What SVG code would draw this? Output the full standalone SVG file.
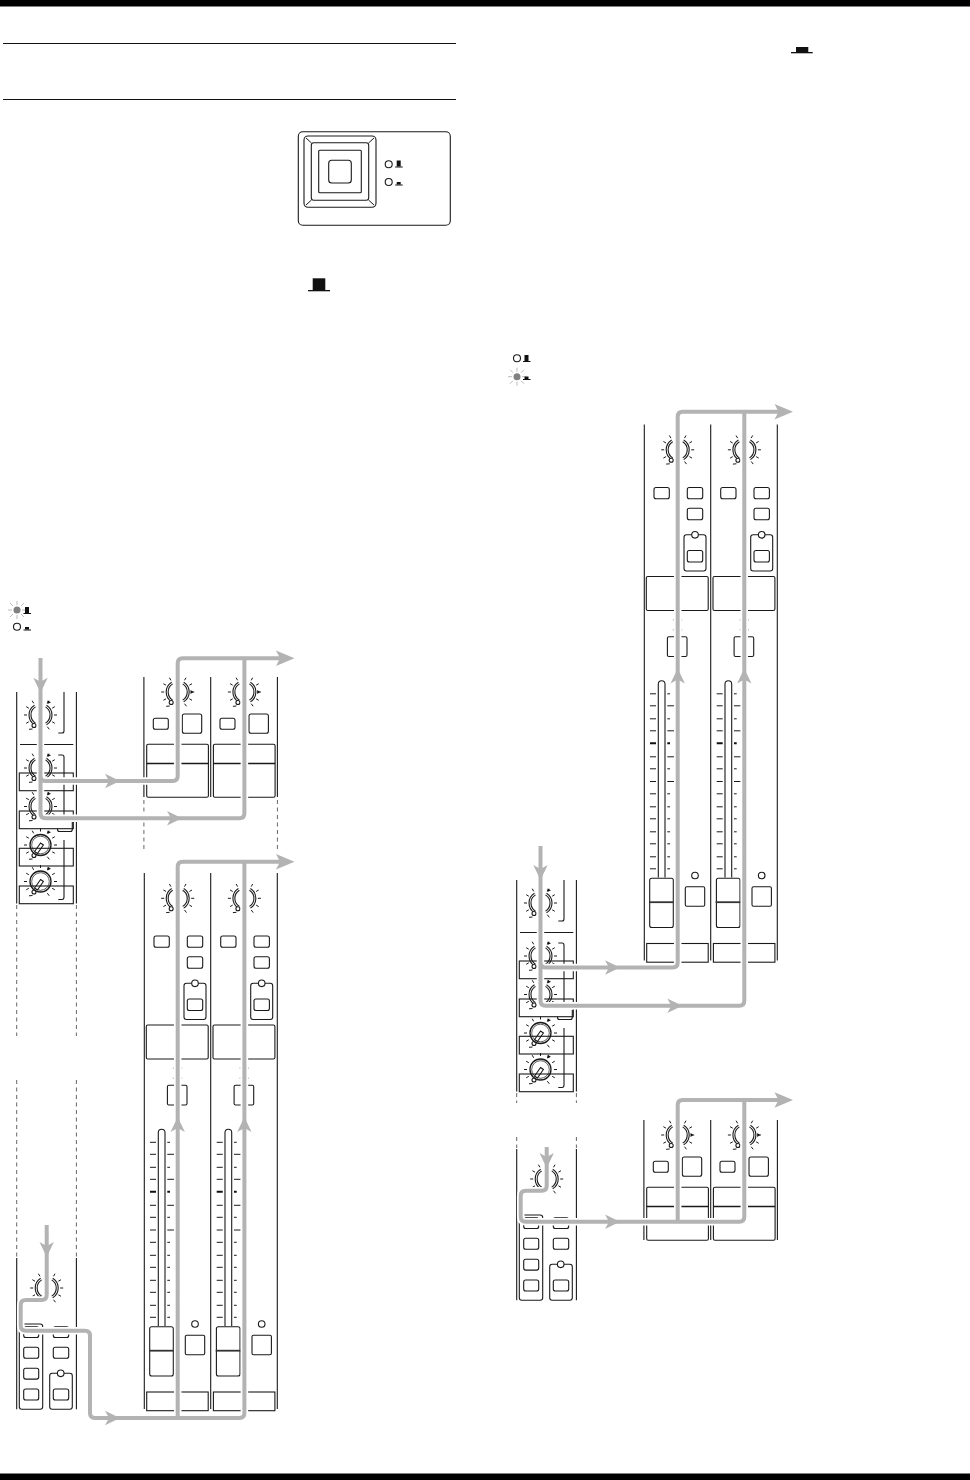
<svg xmlns="http://www.w3.org/2000/svg" xmlns:xlink="http://www.w3.org/1999/xlink" width="970" height="1480" viewBox="0 0 970 1480">
<style>
.l{fill:none;stroke:#1a1a1a;stroke-width:1.1;stroke-linecap:butt}
.b{fill:#fff;stroke:#1a1a1a;stroke-width:1.1}
.t{fill:none;stroke:#1a1a1a;stroke-width:1}
.d{fill:none;stroke:#666;stroke-width:1;stroke-dasharray:4 3.500}
.k{fill:#111}
.halo{fill:none;stroke:#fff;stroke-width:7.5;stroke-linejoin:round}
.flow{fill:none;stroke:#b3b3b3;stroke-width:4;stroke-linejoin:round}
.ah{fill:#b3b3b3}
.ray{stroke:#bbb;stroke-width:1}
</style>
<defs>
<g id="ticks"><path class="t" d="M-13.500,0h-3M13.500,0h3M-11.700,-6.800l-2.600,-1.500M11.700,-6.800l2.600,-1.500M-11.700,6.800l-2.600,1.500M11.700,6.800l2.600,1.500M-6.800,-11.700l-1.500,-2.600M6.800,-11.700l1.500,-2.600M6.800,11.700l2,2.600M-8,14l-3.500,.3"/><circle class="b" cx="-6.500" cy="10.500" r="2"/></g>
<g id="knob-open"><path class="l" d="M-6,-9.800A11.500,11.500 0 0 0 -6,9.800M-5,-8.100A9.500,9.500 0 0 0 -5,8.100M6,-9.800A11.500,11.500 0 0 1 6,9.800M5,-8.100A9.500,9.500 0 0 1 5,8.100"/><use href="#ticks"/></g>
<g id="knob-input"><use href="#knob-open"/><path class="k" d="M7,-14.500l3.500,1.800-3.500,1.800z"/></g>
<g id="knob-solid"><use href="#ticks"/><path class="t" d="M0,-13.500v-3"/><path class="k" d="M7,-14.500l3.500,1.800-3.500,1.800z"/><circle cx="0" cy="0" r="10.500" fill="#fff" stroke="#1a1a1a" stroke-width="1.300"/><circle cx="0" cy="0" r="8.800" fill="#fff" stroke="#1a1a1a" stroke-width=".7"/><path class="b" d="M2.900,0L-3.100,8.500L-5.900,6.500L.1,-2Z"/></g>
<g id="hat-up"><rect class="k" x="1.500" y="0" width="4" height="6"/><rect class="k" y="6" width="7.500" height="1"/></g>
<g id="hat-down"><rect class="k" x="1.500" y="3.500" width="4" height="2.500"/><rect class="k" y="6" width="7.500" height="1"/></g>
<g id="lit"><circle cx="0" cy="0" r="3.500" fill="#808080"/><path class="ray" d="M0,-5v-4M0,5v4M-5,0h-4M5,0h4M-4,-4l-3,-3M4,-4l3,-3M-4,4l-3,3M4,4l3,3"/></g>
<circle id="unlit" class="b" r="3.500"/>

<g id="input-top">
<path class="l" d="M16.700,692V903.500M76.400,692V903.500"/>
<use href="#knob-input" x="40.500" y="715"/><use href="#knob-input" x="40.500" y="768"/><use href="#knob-input" x="40.500" y="806.500"/>
<use href="#knob-solid" x="40.500" y="845"/><use href="#knob-solid" x="40.500" y="881.500"/>
<path class="l" d="M64,692V731Q64,733 62,733H58.300M20,744.500H73.300M58.300,755H62Q64,755 64,757V818M64,840V897Q64,899.500 62,899.500H58.300"/>
<rect class="l" x="19.300" y="773" width="54" height="17.700"/><rect class="l" x="19.300" y="811" width="54" height="17.700"/><rect class="l" x="19.300" y="848.300" width="54" height="17.700"/><rect class="l" x="19.300" y="886" width="54" height="17.700"/>
<path class="l" d="M57.500,828.700V829.500Q57.500,831.500 59.500,831.500H70.300Q72.300,831.500 72.300,829.500V822"/>
</g>

<g id="input-bottom">
<path class="l" d="M16.700,1258V1409.300M76.400,1258V1409.300"/>
<use href="#knob-open" x="46.700" y="1288"/>
<rect class="l" x="19.300" y="1324" width="23.400" height="85.300" rx="2.500"/><rect class="l" x="49.700" y="1373.300" width="22.600" height="36" rx="2.500"/>
<rect class="b" x="23.700" y="1326.700" width="15" height="10.800" rx="2"/><rect class="b" x="23.700" y="1347.300" width="15" height="11" rx="2"/><rect class="b" x="23.700" y="1368.300" width="15" height="10.800" rx="2"/><rect class="b" x="23.700" y="1389" width="15" height="11" rx="2"/>
<rect class="b" x="53.300" y="1326.700" width="15.400" height="10.800" rx="2"/><rect class="b" x="53.300" y="1347.300" width="15.400" height="11" rx="2"/><rect class="b" x="53.300" y="1389" width="15.400" height="11" rx="2"/>
<circle class="b" cx="60.700" cy="1373.300" r="3.300"/>
</g>

<g id="ch-short">
<use href="#knob-open" x="177.700" y="692"/>
<path class="k" d="M190.500,690l3,2-3,2z"/>
<rect class="b" x="153.300" y="718.300" width="15" height="11" rx="2"/><rect class="b" x="182.300" y="714" width="19.400" height="19.300" rx="2"/>
<rect class="l" x="146.700" y="744.300" width="61.700" height="53" rx="1.500"/><path d="M146.700,763.500H208.400" stroke="#1a1a1a" stroke-width="1.600"/>
</g>
<g id="pair-short">
<path class="l" d="M143.900,677V797M210.700,677V797M277.400,677V797"/>
<use href="#ch-short"/><use href="#ch-short" x="66.700"/>
<path class="d" d="M143.900,800V852M277.400,800V852"/>
</g>

<g id="fader-ticks">
<path class="t" d="M150,1142.300h6M167.300,1142.300h2.700M150,1154.300h6M167.300,1154.300h6.700M150,1167.300h6M167.300,1167.300h2.700M150,1179.300h6M167.300,1179.300h6.700M150,1205.300h6M167.300,1205.300h6.700M150,1217.300h6M167.300,1217.300h2.700M150,1230h6M167.300,1230h6.700M150,1242.300h6M167.300,1242.300h2.700M150,1255.300h6M167.300,1255.300h2.700M150,1267.300h6M167.300,1267.300h2.700M150,1280.300h6M167.300,1280.300h2.700M150,1292.300h6M167.300,1292.300h2.700M150,1305.300h6M167.300,1305.300h2.700M150,1317.300h6M167.300,1317.300h2.700"/>
<path d="M150,1191.700h6M167.300,1191.700h2.700" stroke="#111" stroke-width="2"/>
</g>
<g id="ch-full">
<use href="#knob-open" x="177.700" y="898.300"/>
<rect class="b" x="154" y="936" width="15.300" height="11.300" rx="2"/><rect class="b" x="187.300" y="936" width="15.400" height="11.300" rx="2"/><rect class="b" x="187.300" y="956.700" width="15.400" height="11.500" rx="2"/>
<rect class="l" x="184" y="983.300" width="22" height="36.200" rx="2.500"/><circle class="b" cx="195" cy="983.300" r="3.300"/><rect class="b" x="187.300" y="999" width="15.400" height="11.500" rx="2"/>
<rect class="l" x="146.300" y="1025" width="61.900" height="34" rx="1.500"/>
<path d="M173.300,1067.500v1.500M181.700,1067.500v1.500M173.300,1077.500v1.500M181.700,1077.500v1.500" stroke="#bbb" stroke-width="1"/>
<rect class="l" x="167.400" y="1085.300" width="19.600" height="19.700" rx="1.500"/>
<path class="l" d="M158.300,1326V1132.600A3.350,3.350 0 0 1 165,1132.600V1326"/>
<use href="#fader-ticks"/>
<rect class="b" x="149.700" y="1326.700" width="23.600" height="49.300" rx="2"/><path d="M149,1350.700H174" stroke="#333" stroke-width="1.800"/>
<circle class="b" cx="195" cy="1324" r="3.300"/><rect class="b" x="185.300" y="1335.300" width="19.400" height="19.400" rx="1.500"/>
<rect class="l" x="146.700" y="1392" width="61.500" height="18.700"/>
</g>
<g id="pair-full">
<path class="l" d="M144.300,873V1409M210.700,873V1409M277.300,873V1409"/>
<use href="#ch-full"/><use href="#ch-full" x="66.700"/>
</g>

<path id="ah" class="ah" d="M0,0L-15,-7.200L-11,0L-15,7.200Z"/>
<path id="ah-l" class="ah" d="M0,0L-18.500,-7.700L-14.500,0L-18.500,7.700Z"/>
</defs>

<rect id="bar-top" x="0" y="0" width="970" height="6.500" fill="#000"/>
<rect id="bar-bottom" x="0" y="1473.500" width="970" height="6.500" fill="#000"/>
<g id="rules"><path d="M3,43.500H456M3,99.500H456" stroke="#111" stroke-width="1"/></g>

<g id="top-panel">
<rect class="l" x="298.300" y="131.700" width="152" height="93.600" rx="4.500"/>
<rect class="l" x="304" y="136" width="72" height="71.300" rx="4"/>
<rect class="l" x="311.300" y="142.700" width="57.400" height="57.600" rx="2.500"/>
<rect class="l" x="318.700" y="150.300" width="42.600" height="42.400" rx="1"/>
<rect class="l" x="328.700" y="160.300" width="22.600" height="22.700" rx="3"/>
<path class="t" d="M306,138l5.500,5M374,138l-5.500,5M306,205l5.500,-5M374,205l-5.500,-5"/>
<use href="#unlit" x="388.700" y="164.300"/><use href="#unlit" x="388.700" y="182"/>
<use href="#hat-up" x="395.200" y="160.500"/><use href="#hat-down" x="395.200" y="178.500"/>
</g>
<g id="hat-large"><rect class="k" x="312.700" y="278.300" width="12.600" height="12"/><rect class="k" x="308" y="290" width="22" height="1.300"/></g>
<g id="hat-low-large"><rect class="k" x="796" y="47" width="12.300" height="5"/><rect class="k" x="791" y="52" width="21.700" height="1.300"/></g>

<g id="legend-left"><use href="#lit" x="17" y="610"/><use href="#hat-up" x="23.500" y="607"/><use href="#unlit" x="17" y="626.700"/><use href="#hat-down" x="23.500" y="623.500"/></g>
<g id="legend-right"><use href="#unlit" x="517" y="358.300"/><use href="#hat-up" x="523" y="355"/><use href="#lit" x="517" y="376.700"/><use href="#hat-down" x="523" y="373"/></g>

<g id="node-input-a"><use href="#input-top"/><path class="d" d="M16.700,905V1036M76.400,905V1036M16.700,1080V1258M76.400,1080V1258"/></g>
<g id="node-input-b"><use href="#input-bottom"/></g>
<g id="node-pair-a"><use href="#pair-short"/></g>
<g id="node-pair-b"><use href="#pair-full"/></g>
<g id="node-input-c" transform="translate(500,188)"><use href="#input-top"/><path class="d" d="M16.700,905V915M76.400,905V915"/></g>
<g id="node-input-d" transform="translate(500,-109)"><use href="#input-bottom"/><path class="d" d="M16.700,1246V1257M76.400,1246V1257"/></g>
<g id="node-pair-c" transform="translate(500,-448.500)"><use href="#pair-full"/></g>
<g id="node-pair-d" transform="translate(500,443)"><path class="l" d="M143.900,677V797M210.700,677V797M277.400,677V797"/><use href="#ch-short"/><use href="#ch-short" x="66.700"/></g>

<g id="connectors">
<path class="halo" d="M40.500,660V776Q40.500,781 45.500,781H172.700Q177.700,781 177.700,776V663.300Q177.700,658.300 182.700,658.300H280M40.500,770V813.300Q40.500,818.300 45.500,818.300H239.400Q244.400,818.300 244.400,813.300V658.300"/>
<path class="halo" d="M177.700,1416V866.700Q177.700,861.700 182.700,861.700H280M244.400,1413V861.700M46.700,1230V1295Q46.700,1300 41.700,1300H25.700Q20.700,1300 20.700,1305V1325.700Q20.700,1330.700 25.700,1330.700H85Q90,1330.700 90,1335.700V1413Q90,1418 95,1418H239.400Q244.400,1418 244.400,1413"/>
<path class="halo" d="M540.500,850V962.500Q540.500,967.500 545.500,967.500H672.700Q677.700,967.500 677.700,962.500V416.700Q677.700,411.700 682.700,411.700H780M540.500,960V1000.700Q540.500,1005.700 545.500,1005.700H739.300Q744.300,1005.700 744.300,1000.700V411.700"/>
<path class="halo" d="M546.700,1150V1185.700Q546.700,1190.700 541.700,1190.700H525.700Q520.700,1190.700 520.700,1195.700V1216.700Q520.700,1221.700 525.700,1221.700H739.300Q744.300,1221.700 744.300,1216.700V1100M677.700,1221.700V1105Q677.700,1100 682.700,1100H780"/>

<path class="flow" d="M40.500,658V776Q40.500,781 45.500,781H172.700Q177.700,781 177.700,776V663.300Q177.700,658.300 182.700,658.300H280M40.500,770V813.300Q40.500,818.300 45.500,818.300H239.400Q244.400,818.300 244.400,813.300V658.300"/>
<path class="flow" d="M177.700,1418V866.700Q177.700,861.700 182.700,861.700H280M244.400,1413V861.700M46.700,1225V1295Q46.700,1300 41.700,1300H25.700Q20.700,1300 20.700,1305V1325.700Q20.700,1330.700 25.700,1330.700H85Q90,1330.700 90,1335.700V1413Q90,1418 95,1418H239.400Q244.400,1418 244.400,1413"/>
<path class="flow" d="M540.500,846V962.500Q540.500,967.500 545.500,967.500H672.700Q677.700,967.500 677.700,962.500V416.700Q677.700,411.700 682.700,411.700H780M540.500,960V1000.700Q540.500,1005.700 545.500,1005.700H739.300Q744.300,1005.700 744.300,1000.700V411.700"/>
<path class="flow" d="M546.700,1147V1185.700Q546.700,1190.700 541.700,1190.700H525.700Q520.700,1190.700 520.700,1195.700V1216.700Q520.700,1221.700 525.700,1221.700H739.300Q744.300,1221.700 744.300,1216.700V1100M677.700,1221.700V1105Q677.700,1100 682.700,1100H780"/>

<use href="#ah" transform="translate(40.500,692.700) rotate(90)"/>
<use href="#ah" transform="translate(120,781)"/>
<use href="#ah" transform="translate(182,818.300)"/>
<use href="#ah-l" transform="translate(294.500,658.300)"/>
<use href="#ah-l" transform="translate(294.500,861.700)"/>
<use href="#ah" transform="translate(177.700,1117) rotate(-90)"/>
<use href="#ah" transform="translate(244.400,1117) rotate(-90)"/>
<use href="#ah" transform="translate(46.700,1257) rotate(90)"/>
<use href="#ah" transform="translate(120,1418)"/>
<use href="#ah" transform="translate(540.500,880) rotate(90)"/>
<use href="#ah" transform="translate(620,967.500)"/>
<use href="#ah" transform="translate(682.300,1005.700)"/>
<use href="#ah-l" transform="translate(793,411.700)"/>
<use href="#ah" transform="translate(677.700,668.500) rotate(-90)"/>
<use href="#ah" transform="translate(744.300,668.500) rotate(-90)"/>
<use href="#ah" transform="translate(546.700,1168) rotate(90)"/>
<use href="#ah" transform="translate(620,1221.700)"/>
<use href="#ah-l" transform="translate(793,1100)"/>
</g>
</svg>
